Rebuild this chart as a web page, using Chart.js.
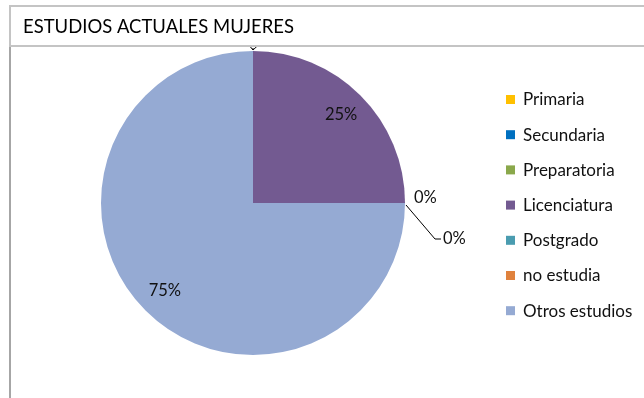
<!DOCTYPE html>
<html>
<head>
<meta charset="utf-8">
<script src="https://cdn.jsdelivr.net/npm/chart.js@4/dist/chart.umd.min.js"></script>
<style>
  html, body { margin: 0; padding: 0; background: #fff; }
  #wrap { width: 644px; height: 398px; position: relative; }
</style>
</head>
<body>
<div id="wrap"><canvas id="pie" width="644" height="398"></canvas></div>
<script>
// --- datos ---
const categorias = ['Primaria', 'Secundaria', 'Preparatoria', 'Licenciatura', 'Postgrado', 'no estudia', 'Otros estudios'];
const porcentajes = [0, 0, 0, 25, 0, 0, 75];
const colores = ['#FFC000', '#0070C0', '#8AA84B', '#735A91', '#4A9CB0', '#E0823D', '#95AAD3'];
const titulo = 'ESTUDIOS ACTUALES MUJERES';

const FONT = "Lato, 'Open Sans', sans-serif";

// etiquetas de porcentaje sobre cada sector
const etiquetas = {
  id: 'etiquetas',
  afterDatasetsDraw(chart) {
    const ctx = chart.ctx;
    const meta = chart.getDatasetMeta(0);
    const vals = chart.data.datasets[0].data;
    ctx.save();
    ctx.font = '16.5px ' + FONT;
    ctx.fillStyle = '#111';
    ctx.strokeStyle = '#000';
    ctx.lineWidth = 1;
    const ceros = {};
    meta.data.forEach((arc, i) => {
      const p = arc.getProps(['x', 'y', 'startAngle', 'endAngle', 'outerRadius'], true);
      const txt = vals[i] + '%';
      if (vals[i] > 0) {
        const a = (p.startAngle + p.endAngle) / 2;
        ctx.textAlign = 'center';
        ctx.textBaseline = 'middle';
        ctx.fillText(txt, p.x + Math.cos(a) * p.outerRadius * 0.82, p.y + Math.sin(a) * p.outerRadius * 0.82);
        return;
      }
      // sectores en cero: se apilan con lineas guia
      const key = p.startAngle.toFixed(3);
      const n = ceros[key] = (ceros[key] || 0) + 1;
      const ex = p.x + Math.cos(p.startAngle) * p.outerRadius;
      const ey = p.y + Math.sin(p.startAngle) * p.outerRadius;
      ctx.textBaseline = 'middle';
      if (Math.abs(Math.cos(p.startAngle)) > 0.5) {
        ctx.textAlign = 'left';
        if (n === 1) {
          ctx.fillText(txt, ex + 9, ey - 5);
        } else {
          ctx.beginPath();
          ctx.moveTo(ex + 1, ey + 2);
          ctx.lineTo(ex + 30, ey + 36);
          ctx.lineTo(ex + 36, ey + 36);
          ctx.stroke();
          ctx.fillText(txt, ex + 38, ey + 36);
        }
      } else {
        // quedan bajo el cuadro del titulo
        const dx = [-4, 9, 0][n - 1] || 0;
        ctx.beginPath();
        ctx.moveTo(ex, ey - 1);
        ctx.lineTo(ex + dx, ey - 1 - Math.abs(dx) * 0.7 - 2);
        ctx.stroke();
        ctx.textAlign = 'center';
        ctx.fillText(txt, ex + dx * 3, ey - 26);
      }
    });
    ctx.restore();
  }
};

// marco, cuadro de titulo y leyenda
const marco = {
  id: 'marco',
  afterDraw(chart) {
    const ctx = chart.ctx;
    const w = chart.width, h = chart.height;
    ctx.save();
    // borde izquierdo del grafico
    ctx.fillStyle = '#a6a6a6';
    ctx.fillRect(9, 46, 2, h - 46);
    // cuadro del titulo
    ctx.fillStyle = '#fff';
    ctx.fillRect(10, 6, w - 10, 40);
    ctx.fillStyle = '#c4c4c4';
    ctx.fillRect(9, 5, w - 9, 2);
    ctx.fillRect(9, 45, w - 9, 2);
    ctx.fillRect(9, 5, 2, 42);
    ctx.fillStyle = '#000';
    ctx.font = '18.5px ' + FONT;
    ctx.textAlign = 'left';
    ctx.textBaseline = 'middle';
    ctx.fillText(titulo, 23, 27, 271);

    // leyenda
    const labels = chart.data.labels;
    const bg = chart.data.datasets[0].backgroundColor;
    ctx.font = '17px ' + FONT;
    labels.forEach((lab, i) => {
      const y = 100 + i * 35.2;
      ctx.fillStyle = bg[i];
      ctx.fillRect(506, y - 5, 9, 9);
      ctx.fillStyle = '#111';
      ctx.fillText(lab, 523, y, 112);
    });
    ctx.restore();
  }
};

new Chart(document.getElementById('pie'), {
  type: 'pie',
  data: {
    labels: categorias,
    datasets: [{
      data: porcentajes,
      backgroundColor: colores,
      borderWidth: 0
    }]
  },
  options: {
    responsive: false,
    animation: false,
    layout: { padding: { left: 101, right: 239, top: 51, bottom: 43 } },
    plugins: {
      legend: { display: false },
      title: { display: false },
      tooltip: { enabled: false }
    }
  },
  plugins: [etiquetas, marco]
});
</script>
</body>
</html>
